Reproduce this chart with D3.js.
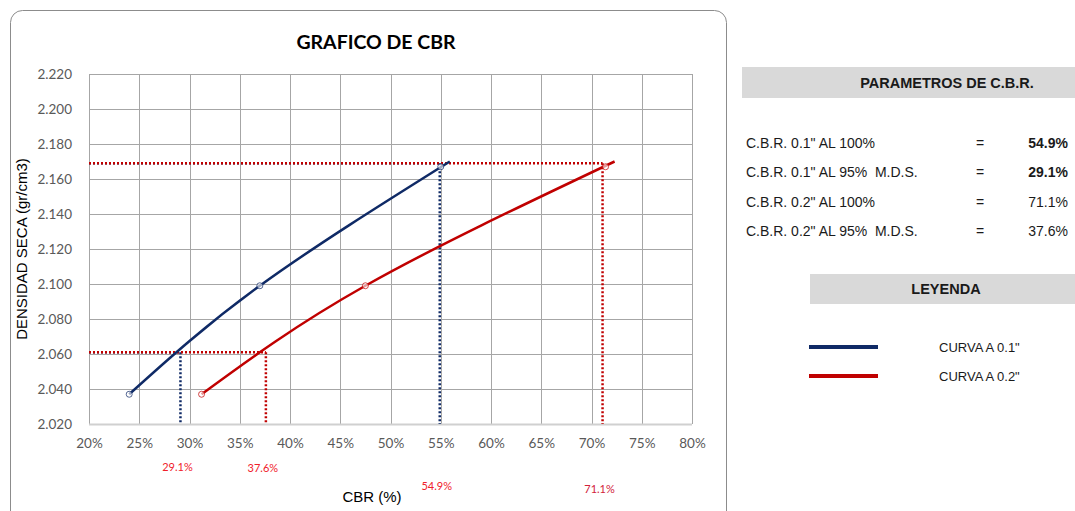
<!DOCTYPE html>
<html>
<head>
<meta charset="utf-8">
<script src="https://cdn.jsdelivr.net/npm/d3@7"></script>
<style>
  body { margin: 0; background: #fff; }
  svg text { font-family: "Liberation Sans", Arial, sans-serif; white-space: pre; }
</style>
</head>
<body>
<div id="chart"></div>
<script>
// Data
const curve01X = [24.0, 37.0, 55.9];
const curve01Y = [2.037, 2.099, 2.170];
const curve02X = [31.2, 47.5, 72.3];
const curve02Y = [2.037, 2.099, 2.170];
const marker01X = [24.0, 37.0, 55.0];
const marker01Y = [2.037, 2.099, 2.167];
const marker02X = [31.2, 47.5, 71.4];
const marker02Y = [2.037, 2.099, 2.167];

const mds = 2.169;
const mds95 = 2.061;
const cbrValues = [54.9, 29.1, 71.1, 37.6]; // 0.1 al 100, 0.1 al 95, 0.2 al 100, 0.2 al 95

const xTicks = [20, 25, 30, 35, 40, 45, 50, 55, 60, 65, 70, 75, 80];
const yTicks = [2.02, 2.04, 2.06, 2.08, 2.10, 2.12, 2.14, 2.16, 2.18, 2.20, 2.22];

const paramLabels = ['C.B.R. 0.1" AL 100%', 'C.B.R. 0.1" AL 95%  M.D.S.', 'C.B.R. 0.2" AL 100%', 'C.B.R. 0.2" AL 95%  M.D.S.'];
const paramBold = [true, true, false, false];
const legendLabels = ['CURVA A 0.1"', 'CURVA A 0.2"'];

const BLUE = "#0f2a66";
const RED = "#c00000";

const WIDTH = 1075, HEIGHT = 511;
const plot = { left: 89, right: 692, top: 74, bottom: 424 };

const svg = d3.select("#chart").append("svg")
  .attr("width", WIDTH).attr("height", HEIGHT);

// chart frame
svg.append("rect")
  .attr("x", 10.5).attr("y", 10.5)
  .attr("width", 716).attr("height", 520)
  .attr("rx", 12)
  .attr("fill", "#fff").attr("stroke", "#8c8c8c").attr("stroke-width", 1);

svg.append("text")
  .attr("x", 376).attr("y", 49)
  .attr("text-anchor", "middle")
  .style("font-family", "Lato, sans-serif")
  .style("font-weight", "bold").style("font-size", "19.5px")
  .attr("fill", "#000")
  .text("GRAFICO DE CBR");

const x = d3.scaleLinear().domain([20, 80]).range([plot.left, plot.right]);
const y = d3.scaleLinear().domain([2.02, 2.22]).range([plot.bottom, plot.top]);

// grid
const grid = svg.append("g");
grid.selectAll(".vg").data(xTicks).enter().append("line")
  .attr("x1", d => Math.round(x(d)) + 0.5).attr("x2", d => Math.round(x(d)) + 0.5)
  .attr("y1", plot.top).attr("y2", plot.bottom)
  .attr("stroke", "#a6a6a6");
grid.selectAll(".hg").data(yTicks).enter().append("line")
  .attr("y1", d => Math.round(y(d)) + 0.5).attr("y2", d => Math.round(y(d)) + 0.5)
  .attr("x1", plot.left).attr("x2", plot.right)
  .attr("stroke", d => d === 2.02 ? "#d0d0d0" : "#a6a6a6")
  .attr("stroke-width", d => d === 2.02 ? 2 : 1);

// axes
const xAxis = svg.append("g")
  .attr("transform", `translate(0,${plot.bottom + 11})`)
  .call(d3.axisBottom(x).tickValues(xTicks).tickSize(0).tickFormat(d => d + "%"));
const yAxis = svg.append("g")
  .attr("transform", `translate(${plot.left - 14},0)`)
  .call(d3.axisLeft(y).tickValues(yTicks).tickSize(0).tickFormat(d3.format(".3f")));
[xAxis, yAxis].forEach(a => {
  a.select(".domain").remove();
  a.selectAll("text")
    .style("font-family", "Lato, sans-serif")
    .style("font-size", "13.5px")
    .attr("fill", "#595959");
});

svg.append("text")
  .attr("transform", `translate(27,249) rotate(-90)`)
  .attr("text-anchor", "middle")
  .style("font-size", "15px").attr("fill", "#000")
  .text("DENSIDAD SECA (gr/cm3)");

svg.append("text")
  .attr("x", 372).attr("y", 502)
  .attr("text-anchor", "middle")
  .style("font-size", "15px").attr("fill", "#000")
  .text("CBR (%)");

// dotted guide lines
function guides(cbr100, cbr95, color) {
  const g = svg.append("g")
    .attr("fill", "none").attr("stroke", color)
    .attr("stroke-width", 2.5).attr("stroke-dasharray", "2,2");
  g.append("line").attr("x1", x(20)).attr("x2", x(cbr100)).attr("y1", y(mds)).attr("y2", y(mds));
  g.append("line").attr("x1", x(cbr100)).attr("x2", x(cbr100)).attr("y1", y(mds)).attr("y2", y(2.02));
  g.append("line").attr("x1", x(20)).attr("x2", x(cbr95)).attr("y1", y(mds95)).attr("y2", y(mds95));
  g.append("line").attr("x1", x(cbr95)).attr("x2", x(cbr95)).attr("y1", y(mds95)).attr("y2", y(2.02));
}
guides(cbrValues[0], cbrValues[1], BLUE);
guides(cbrValues[2], cbrValues[3], RED);

// curves
const line = d3.line().x(d => x(d[0])).y(d => y(d[1])).curve(d3.curveNatural);
function drawCurve(xs, ys, mx, my, color) {
  const pts = xs.map((v, i) => [v, ys[i]]);
  svg.append("path").datum(pts)
    .attr("d", line)
    .attr("fill", "none").attr("stroke", color).attr("stroke-width", 2.5);
  svg.selectAll(null).data(mx.map((v, i) => [v, my[i]])).enter().append("circle")
    .attr("cx", d => x(d[0])).attr("cy", d => y(d[1]))
    .attr("r", 3)
    .attr("fill", "#fff").attr("fill-opacity", 0.6)
    .attr("stroke", color).attr("stroke-opacity", 0.7).attr("stroke-width", 1);
}
drawCurve(curve01X, curve01Y, marker01X, marker01Y, BLUE);
drawCurve(curve02X, curve02Y, marker02X, marker02Y, RED);

// red value labels under the axis
const valLabelY = [490, 471, 493, 472];
svg.selectAll(".vl").data(cbrValues).enter().append("text")
  .attr("x", d => x(d) - 3)
  .attr("y", (d, i) => valLabelY[i])
  .attr("text-anchor", "middle")
  .style("font-family", "Lato, sans-serif")
  .style("font-size", "11px")
  .attr("fill", (d, i) => i === 2 ? "#d2223a" : "#f0202a")
  .text(d => d.toFixed(1) + "%");

// right panel: parameters
svg.append("rect").attr("x", 742).attr("y", 67).attr("width", 333).attr("height", 31).attr("fill", "#d9d9d9");
svg.append("text").attr("x", 947).attr("y", 88).attr("text-anchor", "middle")
  .style("font-size", "14.5px").style("font-weight", "bold").attr("fill", "#1a1a1a")
  .text("PARAMETROS DE C.B.R.");

const rows = svg.selectAll(".prow").data(paramLabels).enter().append("g")
  .attr("transform", (d, i) => `translate(0,${148 + i * 29.3})`);
rows.append("text").attr("x", 746).style("font-size", "14px").attr("fill", "#1a1a1a").text(d => d);
rows.append("text").attr("x", 980).attr("text-anchor", "middle").style("font-size", "14px").attr("fill", "#1a1a1a").text("=");
rows.append("text").attr("x", 1068).attr("text-anchor", "end")
  .style("font-size", "14px")
  .style("font-weight", (d, i) => paramBold[i] ? "bold" : "normal")
  .attr("fill", "#1a1a1a")
  .text((d, i) => cbrValues[i].toFixed(1) + "%");

// legend
svg.append("rect").attr("x", 810).attr("y", 274).attr("width", 265).attr("height", 30).attr("fill", "#d9d9d9");
svg.append("text").attr("x", 946).attr("y", 294).attr("text-anchor", "middle")
  .style("font-size", "14.5px").style("font-weight", "bold").attr("fill", "#1a1a1a")
  .text("LEYENDA");

const legendColors = [BLUE, RED];
const leg = svg.selectAll(".leg").data(legendLabels).enter().append("g")
  .attr("transform", (d, i) => `translate(0,${347 + i * 29})`);
leg.append("line").attr("x1", 809).attr("x2", 878).attr("y1", 0).attr("y2", 0)
  .attr("stroke", (d, i) => legendColors[i]).attr("stroke-width", 4);
leg.append("text").attr("x", 939).attr("y", 5).style("font-size", "13px").attr("fill", "#1a1a1a").text(d => d);
</script>
</body>
</html>
